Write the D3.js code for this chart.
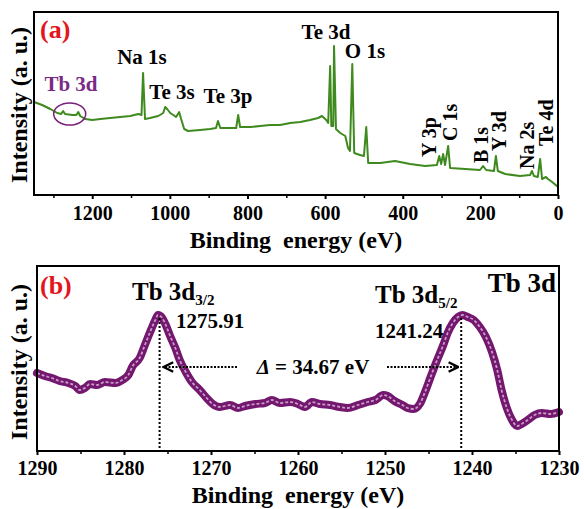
<!DOCTYPE html>
<meta charset="utf-8">
<title>XPS survey and Tb 3d</title>
<style>
  body { margin: 0; background: #fff; }
  text { font-family: "Liberation Serif", "Times New Roman", serif; font-weight: bold; }
</style>
<div id="viz"></div>
<script src="https://cdnjs.cloudflare.com/ajax/libs/d3/7.8.5/d3.min.js"></script>
<script>

// survey spectrum (a): binding energy (eV), intensity (a. u.)
var surveyEnergy = [1350, 1329, 1308, 1290, 1280, 1275, 1270, 1251, 1241, 1236, 1231, 1218, 1200, 1179,
  1154, 1128, 1102, 1081, 1073, 1069, 1064, 1051, 1030, 1017, 1012, 1007, 999, 991, 984, 976, 971,
  963, 953, 922, 896, 881, 876, 870, 845, 829, 824, 819, 793, 767, 742, 716, 690, 664, 639, 618,
  608, 597, 592, 587, 584, 579, 577, 572, 561, 548, 541, 536, 530, 525, 510, 500, 494, 489, 458,
  420, 381, 342, 312, 306, 301, 296, 291, 283, 278, 239, 201, 193, 185, 165, 160, 155, 136, 98,
  72, 67, 62, 52, 46, 41, 31, 26, 15, 3, 0];
var surveyIntensity = [93, 90, 86, 82, 81, 84, 81, 80, 80, 83, 79, 76, 75, 76,
  77, 78, 79, 81, 80, 122, 76, 77, 79, 82, 88, 86, 82, 80, 78, 83, 76,
  66, 64, 65, 66, 67, 74, 67, 67, 67, 80, 68, 68, 69, 70, 70, 72, 73, 75, 77,
  79, 75, 72, 129, 69, 69, 149, 66, 62, 59, 47, 44, 131, 42, 40, 39, 68, 32, 32,
  34, 31, 29, 30, 39, 31, 41, 30, 49, 27, 26, 25, 29, 25, 24, 39, 24, 21, 19,
  20, 24, 19, 18, 36, 16, 18, 16, 13, 9, 10];

// peak labels of (a)
var surveyLabels = ["Na 1s", "Te 3s", "Te 3p", "Te 3d", "O 1s"];
var surveyLabelPos = [[142, 64], [172, 99], [228, 103], [326, 39], [365, 58]];
var sideLabels = ["Y 3p", "C 1s", "B 1s", "Y 3d", "Na 2s", "Te 4d"];
var sideLabelPos = [[436, 157], [457, 141], [488, 163], [506, 151], [534, 169], [553, 146]];

// Tb 3d high resolution (b)
var tbEnergy = [1290.0, 1289.1, 1288.3, 1287.4, 1286.4, 1285.6, 1285.1, 1284.5, 1283.9, 1283.1, 1282.2,
  1281.0, 1280.2, 1279.5, 1279.0, 1278.2, 1277.6, 1277.0, 1276.4, 1276.1, 1275.6, 1275.2, 1274.7,
  1274.1, 1273.6, 1272.9, 1272.2, 1271.3, 1270.5, 1269.8, 1269.0, 1267.8, 1266.9, 1266.1, 1264.9,
  1263.8, 1263.0, 1262.1, 1260.9, 1260.0, 1259.2, 1258.4, 1257.5, 1256.3, 1255.2, 1254.3, 1253.1,
  1252.0, 1251.1, 1250.2, 1249.7, 1248.9, 1248.0, 1247.4, 1246.7, 1246.0, 1245.4, 1244.8, 1244.1,
  1243.3, 1242.8, 1242.2, 1241.6, 1241.1, 1240.5, 1239.8, 1239.1, 1238.4, 1237.7, 1237.1, 1236.6,
  1236.0, 1235.4, 1234.8, 1234.3, 1233.6, 1232.8, 1232.0, 1231.0, 1230.0];
var tbIntensity = [78, 75, 73, 70, 68, 65, 61, 63, 67, 66, 69,
  68, 71, 76, 85, 93, 106, 119, 131, 136, 133, 126, 115,
  103, 91, 79, 69, 61, 53, 47, 44, 46, 43, 45, 47,
  48, 51, 48, 49, 47, 44, 49, 47, 46, 44, 43, 46,
  49, 51, 56, 55, 50, 46, 43, 42, 47, 59, 73, 89,
  106, 118, 128, 134, 136, 134, 131, 124, 114, 99, 81, 61,
  43, 31, 25, 27, 31, 36, 38, 37, 39];
var tbPeaks = [1275.91, 1241.24];
var tbPeakTop = [133, 133];

var width = 584, height = 509;
var svg = d3.select("#viz").append("svg")
  .attr("width", width)
  .attr("height", height);

function zip(xs, ys) { return xs.map(function(x, i) { return [x, ys[i]]; }); }

function frame(g, x, y) {
  g.append("rect")
    .attr("x", x.range()[0]).attr("y", y.range()[1])
    .attr("width", x.range()[1] - x.range()[0])
    .attr("height", y.range()[0] - y.range()[1])
    .attr("fill", "none").attr("stroke", "#000").attr("stroke-width", 2);
}

function ticks(g, x, y0, major, minor, pad) {
  g.append("g")
    .attr("transform", "translate(0," + y0 + ")")
    .call(d3.axisBottom(x).tickValues(minor).tickSize(3).tickFormat(""))
    .call(function(a) { a.select(".domain").remove(); a.selectAll("line").attr("stroke-width", 1.5); });
  var ax = g.append("g")
    .attr("transform", "translate(0," + y0 + ")")
    .call(d3.axisBottom(x).tickValues(major).tickSize(4).tickSizeOuter(0).tickPadding(pad).tickFormat(d3.format("d")));
  ax.select(".domain").remove();
  ax.selectAll("line").attr("stroke-width", 2);
  ax.selectAll("text").attr("font-size", 20).attr("font-family", "Liberation Serif").attr("font-weight", "bold").attr("fill", "#000");
}

function titles(g, cx, by, cy) {
  g.append("text").attr("x", cx).attr("y", by).attr("text-anchor", "middle")
    .attr("font-size", 24).text("Binding  energy (eV)").style("white-space", "pre");
  g.append("text").attr("transform", "translate(27," + cy + ") rotate(-90)")
    .attr("text-anchor", "middle").attr("font-size", 24).text("Intensity (a. u.)");
}

// ---- panel (a)
var xa = d3.scaleLinear().domain([1350, 0]).range([34, 558]);
var ya = d3.scaleLinear().domain([0, 183]).range([195, 12]);
var ga = svg.append("g");

ga.append("path")
  .datum(zip(surveyEnergy, surveyIntensity))
  .attr("fill", "none")
  .attr("stroke", "#3f8a1f")
  .attr("stroke-width", 2)
  .attr("stroke-linejoin", "round")
  .attr("d", d3.line().x(function(d) { return xa(d[0]); }).y(function(d) { return ya(d[1]); }));

frame(ga, xa, ya);
ticks(ga, xa, 195, d3.range(0, 1201, 200), d3.range(100, 1301, 200), 7);
titles(ga, 296, 248, 105);

ga.append("text").attr("x", 40).attr("y", 38).attr("font-size", 26).attr("fill", "#e3161c").text("(a)");

ga.append("ellipse")
  .attr("cx", xa(1258)).attr("cy", ya(81))
  .attr("rx", 16).attr("ry", 11)
  .attr("fill", "none").attr("stroke", "#7a1f7a").attr("stroke-width", 1.5);
ga.append("text").attr("x", 71).attr("y", 91).attr("text-anchor", "middle")
  .attr("font-size", 21).attr("fill", "#7a2a86").text("Tb 3d");

ga.selectAll(".plab").data(surveyLabels).enter().append("text")
  .attr("x", function(d, i) { return surveyLabelPos[i][0]; })
  .attr("y", function(d, i) { return surveyLabelPos[i][1]; })
  .attr("text-anchor", "middle").attr("font-size", 21).text(function(d) { return d; });

ga.selectAll(".slab").data(sideLabels).enter().append("text")
  .attr("transform", function(d, i) { return "translate(" + sideLabelPos[i][0] + "," + sideLabelPos[i][1] + ") rotate(-90)"; })
  .attr("font-size", 20).text(function(d) { return d; });

// ---- panel (b)
var xb = d3.scaleLinear().domain([1290, 1230]).range([37, 559]);
var yb = d3.scaleLinear().domain([0, 185]).range([451, 266]);
var gb = svg.append("g");

var tbLine = d3.line().x(function(d) { return xb(d[0]); }).y(function(d) { return yb(d[1]); }).curve(d3.curveMonotoneX);
gb.append("path").datum(zip(tbEnergy, tbIntensity))
  .attr("fill", "none").attr("stroke", "#73176f").attr("stroke-width", 8)
  .attr("stroke-linejoin", "round").attr("stroke-linecap", "round").attr("d", tbLine);
gb.append("path").datum(zip(tbEnergy, tbIntensity))
  .attr("fill", "none").attr("stroke", "#c99bc6").attr("stroke-width", 1.8)
  .attr("stroke-dasharray", "3,2").attr("d", tbLine);

// peak markers
gb.selectAll(".vline").data(tbPeaks).enter().append("line")
  .attr("x1", function(d) { return xb(d); }).attr("x2", function(d) { return xb(d); })
  .attr("y1", function(d, i) { return yb(tbPeakTop[i]); }).attr("y2", 451)
  .attr("stroke", "#000").attr("stroke-width", 2).attr("stroke-dasharray", "2,2");

svg.append("defs").append("marker")
  .attr("id", "arr").attr("viewBox", "0 0 10 10").attr("refX", 9).attr("refY", 5)
  .attr("markerWidth", 6).attr("markerHeight", 6).attr("orient", "auto-start-reverse")
  .append("path").attr("d", "M1,1 L9,5 L1,9").attr("fill", "none").attr("stroke", "#000").attr("stroke-width", 2);

var arrowY = 367;
gb.append("line").attr("x1", 237).attr("x2", xb(tbPeaks[0]) + 4).attr("y1", arrowY).attr("y2", arrowY)
  .attr("stroke", "#000").attr("stroke-width", 2).attr("stroke-dasharray", "2,1.5").attr("marker-end", "url(#arr)");
gb.append("line").attr("x1", 387).attr("x2", xb(tbPeaks[1]) - 3).attr("y1", arrowY).attr("y2", arrowY)
  .attr("stroke", "#000").attr("stroke-width", 2).attr("stroke-dasharray", "2,1.5").attr("marker-end", "url(#arr)");

var dt = gb.append("text").attr("x", 313).attr("y", arrowY + 7).attr("text-anchor", "middle").attr("font-size", 21);
dt.append("tspan").attr("font-style", "italic").text("\u0394");
dt.append("tspan").text(" = " + (tbPeaks[0] - tbPeaks[1]).toFixed(2) + " eV");

frame(gb, xb, yb);
ticks(gb, xb, 451, d3.range(1230, 1291, 10), d3.range(1235, 1290, 10), 6);
titles(gb, 298, 503, 362);

gb.append("text").attr("x", 40).attr("y", 294).attr("font-size", 26).attr("fill", "#e3161c").text("(b)");
gb.append("text").attr("x", 556).attr("y", 292).attr("text-anchor", "end").attr("font-size", 27).text("Tb 3d");

var t1 = gb.append("text").attr("x", 132).attr("y", 300).attr("font-size", 25);
t1.append("tspan").text("Tb 3d");
t1.append("tspan").attr("font-size", 15).attr("dy", 5).text("3/2");
gb.append("text").attr("x", 176).attr("y", 328).attr("font-size", 21).text(tbPeaks[0].toFixed(2));

var t2 = gb.append("text").attr("x", 375).attr("y", 303).attr("font-size", 25);
t2.append("tspan").text("Tb 3d");
t2.append("tspan").attr("font-size", 15).attr("dy", 5).text("5/2");
gb.append("text").attr("x", 375).attr("y", 338).attr("font-size", 21).text(tbPeaks[1].toFixed(2));

</script>
